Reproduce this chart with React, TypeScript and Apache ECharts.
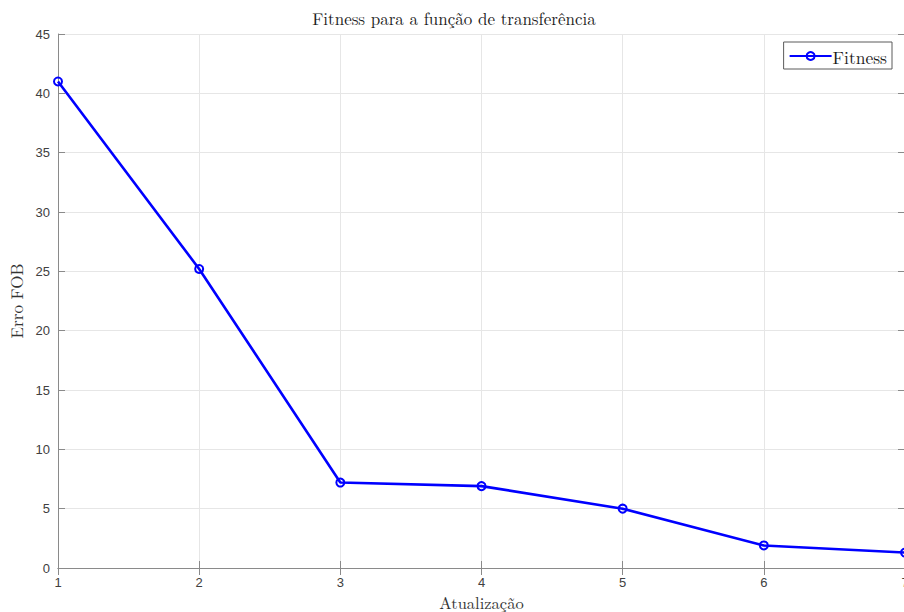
import React, { useEffect, useRef } from "react";
import * as echarts from "echarts";

// Fitness (FOB error) per update step
const updates = [1, 2, 3, 4, 5, 6, 7];
const fitness = [41.0, 25.2, 7.2, 6.9, 5.0, 1.9, 1.3];

const xTicks = { min: 1, max: 7, interval: 1 };
const yTicks = { min: 0, max: 45, interval: 5 };

const titleText = "Fitness para a função de transferência";
const xLabel = "Atualização";
const yLabel = "Erro FOB";
const seriesName = "Fitness";

const serif = "'Latin Modern Roman', 'Liberation Serif', 'DejaVu Serif', serif";
const sans = "'Liberation Sans', Arial, Helvetica, sans-serif";
const axisColor = "#8a8a8a";
const gridColor = "#e6e6e6";

export default function App() {
  const ref = useRef<HTMLDivElement>(null);

  useEffect(() => {
    if (!ref.current) return;
    const chart = echarts.init(ref.current, undefined, { renderer: "svg" });

    const hidden = {
      axisLabel: { show: false },
      splitLine: { show: false },
      axisLine: { show: true, lineStyle: { color: axisColor, width: 1 } },
      axisTick: { show: true, inside: true, length: 7, lineStyle: { color: axisColor } },
    };

    chart.setOption({
      animation: false,
      backgroundColor: "#ffffff",
      title: {
        text: titleText,
        left: 449,
        textAlign: "center",
        top: 4,
        textStyle: { fontFamily: serif, fontSize: 17, fontWeight: "normal", color: "#1a1a1a" },
      },
      grid: {
        left: 58,
        top: 34,
        width: 847,
        height: 534,
        containLabel: false,
        outerBoundsMode: "none",
      },
      legend: {
        data: [{ name: seriesName }],
        right: 12,
        top: 42,
        orient: "vertical",
        itemWidth: 42,
        itemHeight: 10,
        itemGap: 0,
        padding: [5, 5, 4, 5],
        borderColor: "#5a5a5a",
        borderWidth: 1,
        backgroundColor: "#ffffff",
        textStyle: { fontFamily: serif, fontSize: 17.5, color: "#1a1a1a", padding: [0, 0, 0, -4] },
      },
      xAxis: [
        {
          type: "value",
          min: xTicks.min,
          max: xTicks.max,
          interval: xTicks.interval,
          position: "bottom",
          name: xLabel,
          nameLocation: "middle",
          nameGap: 22,
          nameTextStyle: { fontFamily: serif, fontSize: 16.5, lineHeight: 16, color: "#333" },
          axisLine: { show: true, onZero: false, lineStyle: { color: axisColor, width: 1 } },
          axisTick: { show: true, inside: true, length: 7, lineStyle: { color: axisColor } },
          axisLabel: { fontFamily: sans, fontSize: 13, color: "#404040", margin: 8 },
          splitLine: { show: true, lineStyle: { color: gridColor, width: 1 } },
        },
        {
          type: "value",
          min: xTicks.min,
          max: xTicks.max,
          interval: xTicks.interval,
          position: "top",
          ...hidden,
        },
      ],
      yAxis: [
        {
          type: "value",
          min: yTicks.min,
          max: yTicks.max,
          interval: yTicks.interval,
          position: "left",
          name: yLabel,
          nameLocation: "middle",
          nameGap: 33,
          nameTextStyle: { fontFamily: serif, fontSize: 17, color: "#333" },
          axisLine: { show: true, lineStyle: { color: axisColor, width: 1 } },
          axisTick: { show: true, inside: true, length: 7, lineStyle: { color: axisColor } },
          axisLabel: { fontFamily: sans, fontSize: 13, color: "#404040", margin: 8 },
          splitLine: { show: true, lineStyle: { color: gridColor, width: 1 } },
        },
        {
          type: "value",
          min: yTicks.min,
          max: yTicks.max,
          interval: yTicks.interval,
          position: "right",
          ...hidden,
        },
      ],
      series: [
        {
          name: seriesName,
          type: "line",
          data: updates.map((u, i) => [u, fitness[i]]),
          lineStyle: { color: "#0000ff", width: 2.6 },
          itemStyle: { color: "rgba(0,0,0,0)", borderColor: "#0000ff", borderWidth: 2 },
          symbol: "circle",
          symbolSize: 8,
          showSymbol: true,
          clip: false,
          z: 5,
        },
      ],
    });

    return () => chart.dispose();
  }, []);

  return (
    <div
      ref={ref}
      style={{ position: "absolute", left: 0, top: 0, width: 904, height: 612 }}
    />
  );
}
